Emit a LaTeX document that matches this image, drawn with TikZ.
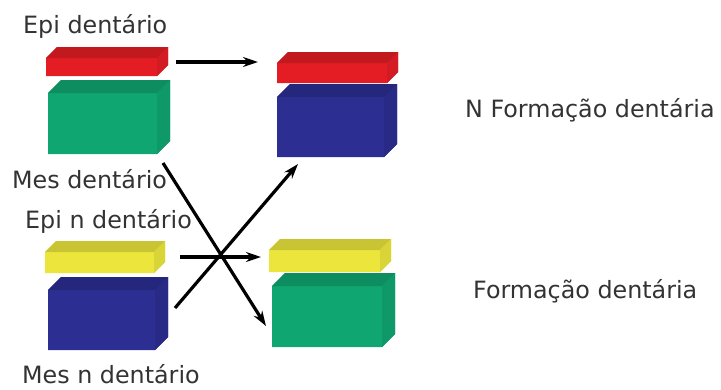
\documentclass[tikz,border=0pt]{standalone}
\usepackage{fontspec}
\setmainfont{DejaVu Sans}
\usetikzlibrary{arrows.meta}
\definecolor{EpiRed}{HTML}{E41D25}
\definecolor{EpiYellow}{HTML}{ECE63C}
\definecolor{MesGreen}{HTML}{10A672}
\definecolor{MesBlue}{HTML}{2C2E92}

% chamfered box: x1, y1, x2, y2, bevel, colour
\newcommand{\toothblock}[6]{%
  \fill[#6] (#1+#5,#2) -- (#3,#2) -- (#3,#4-#5) -- (#3-#5,#4) -- (#1,#4) -- (#1,#2+#5) -- cycle;
  \fill[#6!85!black] (#1+#5,#2) -- (#3,#2) -- (#3-#5,#2+#5) -- (#1,#2+#5) -- cycle;
  \fill[#6!92!black] (#3,#2) -- (#3,#4-#5) -- (#3-#5,#4) -- (#3-#5,#2+#5) -- cycle;
}

\begin{document}
\begin{tikzpicture}[x=1pt, y=-1pt,
    lbl/.style={anchor=base west, inner sep=0pt, text=black!80,
      font=\fontsize{23.8}{28}\selectfont},
    pathway/.style={line width=3.2pt, -{Stealth[length=15pt, width=10pt]}}]
  \useasboundingbox (0,0) rectangle (721,389);

  % Epi dentario + Mes dentario
  \toothblock{46}{47}{168}{76}{11}{EpiRed}
  \toothblock{48}{80}{170}{154}{13}{MesGreen}

  % Epi dentario + Mes n dentario
  \toothblock{277}{52}{398}{83}{11}{EpiRed}
  \toothblock{277}{84}{397}{157}{13}{MesBlue}

  % Epi n dentario + Mes n dentario
  \toothblock{45}{241}{165}{273}{11}{EpiYellow}
  \toothblock{48}{277}{168}{350}{13}{MesBlue}

  % Epi n dentario + Mes dentario
  \toothblock{269}{239}{391}{272}{11}{EpiYellow}
  \toothblock{272}{273}{395}{347}{13}{MesGreen}

  % Labels
  \node[lbl] (epiA) at (23,33) {Epi dentário};
  \node[lbl] (mesA) at (12,188) {Mes dentário};
  \node[lbl] (epiB) at (25,228) {Epi n dentário};
  \node[lbl] (mesB) at (22,383) {Mes n dentário};
  \node[lbl] (nform) at (465,117) {N Formação dentária};
  \node[lbl] (form) at (473,298) {Formação dentária};

  % Arrow ends
  \coordinate (topL) at (176,62);
  \coordinate (topR) at (258,62);
  \coordinate (botL) at (180,257);
  \coordinate (botR) at (261,257);
  \coordinate (mesTop) at (163,163);
  \coordinate (mesDown) at (266,326);
  \coordinate (mesUp) at (175,308);
  \coordinate (blueTop) at (298,164);

  % Recombinations
  \draw[pathway] (topL) -- (topR);
  \draw[pathway] (botL) -- (botR);
  \draw[pathway] (mesTop) -- (mesDown);
  \draw[pathway] (mesUp) -- (blueTop);
\end{tikzpicture}
\end{document}
